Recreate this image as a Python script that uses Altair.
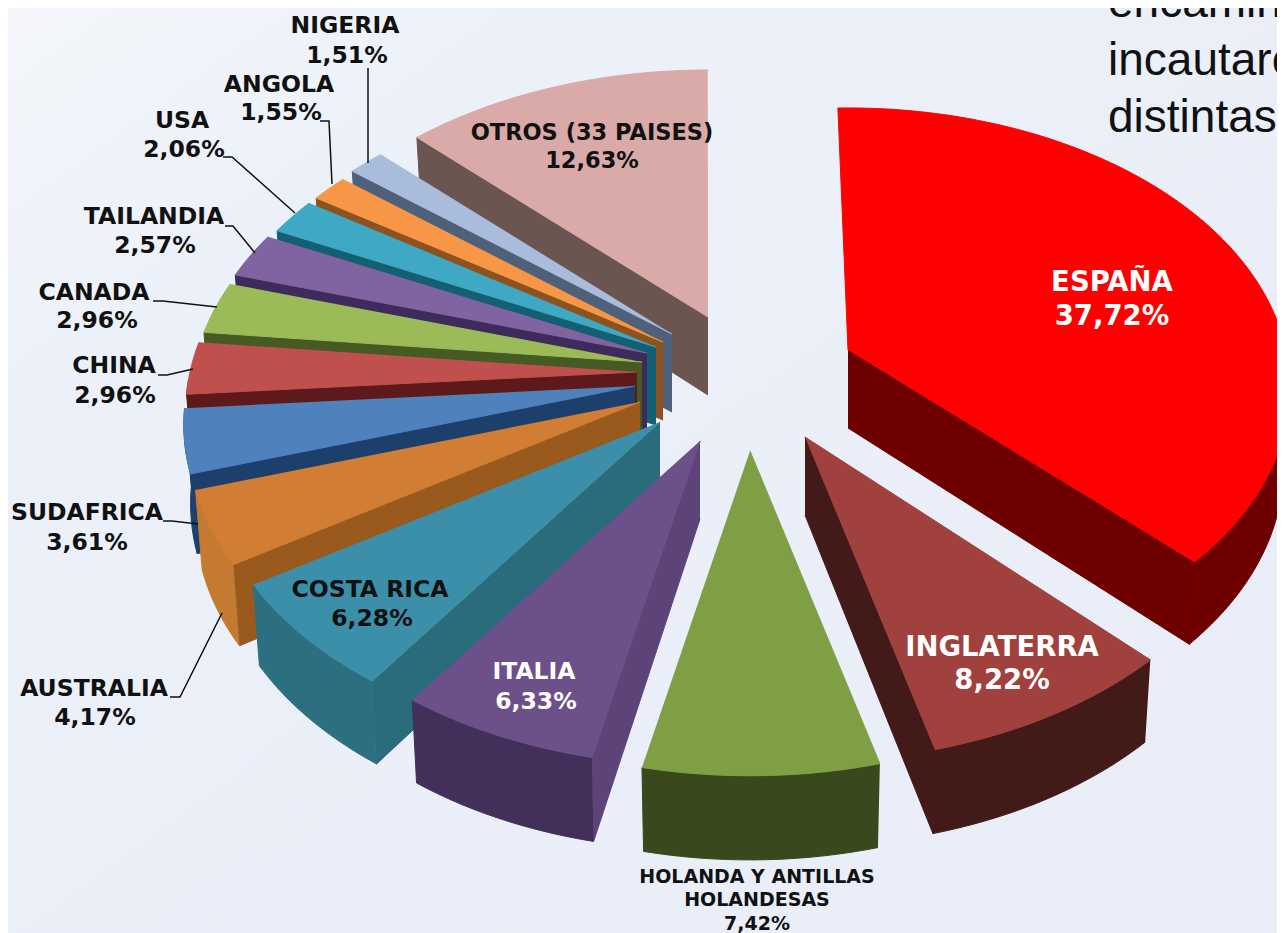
import math
import altair as alt
import pandas as pd

# ---- data ----
countries = ["ESPAÑA", "INGLATERRA", "HOLANDA Y ANTILLAS HOLANDESAS", "ITALIA", "COSTA RICA",
             "AUSTRALIA", "SUDAFRICA", "CHINA", "CANADA", "TAILANDIA", "USA", "ANGOLA",
             "NIGERIA", "OTROS (33 PAISES)"]
shares = [37.72, 8.22, 7.42, 6.33, 6.28, 4.17, 3.61, 2.96, 2.96, 2.57, 2.06, 1.55, 1.51, 12.63]

# ---- styles and layout (not data) ----
top_colors = ["#ff0000", "#a0413d", "#7f9f45", "#6b5089", "#3c8fa8", "#d17d33", "#4f81bd",
              "#c0504d", "#9bbb59", "#8064a2", "#3fa8c4", "#f79646", "#a9bcdc", "#d9aaa8"]
side_colors = ["#6e0000", "#421a18", "#3c4a1e", "#5d4478", "#2a6b7c", "#9a5a1e", "#1c3f6b",
               "#5e1a1a", "#465a24", "#3f2a5c", "#155f72", "#8c5220", "#4f607a", "#6b5550"]
outer_colors = ["#6e0000", "#421a18", "#3a481d", "#43305a", "#2c6f80", "#c47a30", "#1c3f6b",
                "#5e1a1a", "#465a24", "#3f2a5c", "#155f72", "#8c5220", "#4f607a", "#6b5550"]
apex_x = [848, 805, 750, 700, 660, 640, 635, 637, 642, 647, 656, 663, 672, 708]
apex_y = [350, 437, 451, 441, 422, 402, 386, 372, 362, 353, 347, 342, 334, 317]
rot = [-1.5, 0, 0, 0, 0, 0, 0, 0, 0, 0, 0, 0, 0, 0]
radius = [0.98, 1, 1, 1, 1, 1, 1, 1, 1, 1, 1, 1, 1, 1]
draw_order = [13, 12, 11, 10, 9, 8, 7, 6, 5, 4, 3, 2, 0, 1]

A, B, K, THICK, LOW_X = 447.0, 280.6, 0.136, 78.0, 0.985
W, H = 1269, 925


def project(deg):
    t = math.radians(deg)
    X, Y = math.sin(t), math.cos(t)
    s = 1 / (1 + K * Y)
    return A * X * s, -B * Y * s, THICK * (1 + 0.5 * (s - 1))


rows = []
def face(name, pts, col):
    for i, (px, py) in enumerate(pts):
        rows.append({"x": px, "y": py, "face": name, "fill": col, "i": i})


starts = [sum(shares[:k]) for k in range(len(shares))]
seq = 0
for k in draw_order:
    a0 = starts[k] * 3.6 + rot[k]
    a1 = (starts[k] + shares[k]) * 3.6 + rot[k]
    ax, ay = apex_x[k], apex_y[k]
    n = max(6, int((a1 - a0) / 1.5))
    angles = [a0 + (a1 - a0) * j / n for j in range(n + 1)]
    arc = [project(d) for d in angles]
    r = radius[k]
    top = [(ax + r * p[0], ay + r * p[1]) for p in arc]
    low = [(ax + r * LOW_X * p[0], ay + r * p[1] + p[2]) for p in arc]
    bottom_apex = (ax, ay + THICK)
    seq += 1
    if a0 > 180:
        face(f"{seq:03d}a", [(ax, ay), top[0], low[0], bottom_apex], side_colors[k])
    if a1 < 180:
        face(f"{seq:03d}b", [(ax, ay), top[-1], low[-1], bottom_apex], side_colors[k])
    front = [j for j, d in enumerate(angles) if math.cos(math.radians(d)) < 0]
    if front:
        face(f"{seq:03d}c", [top[j] for j in front] + [low[j] for j in reversed(front)],
             outer_colors[k])
    face(f"{seq:03d}d", [(ax, ay)] + top, top_colors[k])

faces = pd.DataFrame(rows)

S, L, O, N = 23.5, 27.5, 22.5, 19
BK, WH = "#111111", "#ffffff"
label_rows = [
    ("NIGERIA", 345, 26, S, BK), ("1,51%", 347, 56, S, BK),
    ("ANGOLA", 279, 85, S, BK), ("1,55%", 281, 113, S, BK),
    ("USA", 182, 121, S, BK), ("2,06%", 184, 150, S, BK),
    ("TAILANDIA", 154, 217, S, BK), ("2,57%", 155, 246, S, BK),
    ("CANADA", 94, 293, S, BK), ("2,96%", 97, 321, S, BK),
    ("CHINA", 114, 366, S, BK), ("2,96%", 115, 396, S, BK),
    ("SUDAFRICA", 87, 513, S, BK), ("3,61%", 87, 543, S, BK),
    ("AUSTRALIA", 94, 689, S, BK), ("4,17%", 95, 718, S, BK),
    ("COSTA RICA", 370, 590, S, BK), ("6,28%", 372, 619, S, BK),
    ("ITALIA", 534, 672, S, WH), ("6,33%", 536, 702, S, WH),
    ("INGLATERRA", 1002, 648, L, WH), ("8,22%", 1002, 681, L, WH),
    ("ESPAÑA", 1112, 283, L, WH), ("37,72%", 1112, 317, L, WH),
    ("OTROS (33 PAISES)", 592, 133, O, BK), ("12,63%", 592, 161, O, BK),
    ("HOLANDA Y ANTILLAS", 757, 877, N, BK), ("HOLANDESAS", 757, 900, N, BK),
    ("7,42%", 757, 924, N, BK),
]
labels = pd.DataFrame(label_rows, columns=["t", "x", "y", "fs", "c"])

leader_paths = [
    [(368, 68), (368, 163)],
    [(320, 121), (329, 121), (332, 184)],
    [(223, 157), (232, 157), (295, 213)],
    [(225, 226), (233, 226), (255, 253)],
    [(153, 301), (163, 301), (217, 307)],
    [(158, 375), (167, 375), (193, 369)],
    [(163, 521), (172, 521), (198, 524)],
    [(170, 697), (180, 697), (222, 613)],
]
leaders = pd.DataFrame([{"x": p[0], "y": p[1], "g": g, "i": i}
                        for g, path in enumerate(leader_paths) for i, p in enumerate(path)])

body_text = pd.DataFrame({"t": ["encamin", "incautaro", "distintas"],
                          "x": [1108, 1108, 1108], "y": [17, 75, 132]})

xs = alt.Scale(domain=[8, 8 + W], nice=False, zero=False)
ys = alt.Scale(domain=[8 + H, 8], nice=False, zero=False)
X = alt.X("x:Q", scale=xs, axis=None)
Y = alt.Y("y:Q", scale=ys, axis=None)

bg = alt.Chart(pd.DataFrame({"x": [8], "x2": [8 + W], "y": [8], "y2": [8 + H]})).mark_rect(
    color=alt.LinearGradient(gradient="linear", x1=0, y1=0, x2=1, y2=1,
                             stops=[alt.GradientStop(color="#f4f6fa", offset=0),
                                    alt.GradientStop(color="#ebf0f9", offset=0.25),
                                    alt.GradientStop(color="#e8edf7", offset=1)])
).encode(x=X, x2="x2:Q", y=Y, y2="y2:Q")

slices = alt.Chart(faces).mark_line(strokeWidth=1, interpolate="linear").encode(
    x=X, y=Y,
    fill=alt.Fill("fill:N", scale=None),
    stroke=alt.Stroke("fill:N", scale=None),
    detail="face:N",
    order="i:Q",
)

lead = alt.Chart(leaders).mark_line(color="#111111", strokeWidth=1.5).encode(
    x=X, y=Y, detail="g:N", order="i:Q")

text = alt.Chart(labels).mark_text(font="DejaVu Sans", fontWeight="bold", align="center",
                                   baseline="middle").encode(
    x=X, y=Y, text="t:N",
    size=alt.Size("fs:Q", scale=None),
    color=alt.Color("c:N", scale=None),
)

body = alt.Chart(body_text).mark_text(font="Liberation Sans", fontSize=46, align="left",
                                      baseline="alphabetic", color="#111111").encode(
    x=X, y=Y, text="t:N")

chart = alt.layer(bg, slices, lead, text, body).properties(
    width=W, height=H, padding=0, background="#ebf0f9",
    autosize=alt.AutoSizeParams(type="none"),
).configure_view(strokeWidth=0)

chart.save("out.html", embed_options={"renderer": "svg", "actions": False})
